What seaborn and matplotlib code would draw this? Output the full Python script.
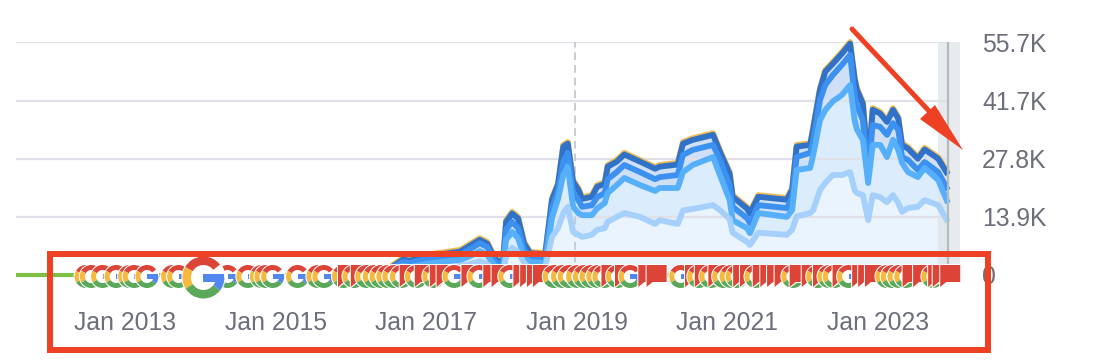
import matplotlib
matplotlib.use("Agg")
import matplotlib.pyplot as plt
import seaborn as sns
from matplotlib.collections import PathCollection
from matplotlib.lines import Line2D
from matplotlib.patches import Polygon, Rectangle, Wedge
from matplotlib.path import Path
from matplotlib.transforms import IdentityTransform

W, H = 1116, 362

# === Data ===
dates = [2016.25, 2016.39, 2016.52, 2016.69, 2016.78, 2016.98, 2017.18, 2017.45, 2017.58, 2017.71,
         2017.81, 2017.87, 2017.94, 2018.02, 2018.06, 2018.14, 2018.22, 2018.30, 2018.38, 2018.58,
         2018.67, 2018.75, 2018.82, 2018.88, 2018.95, 2019.02, 2019.07, 2019.20, 2019.27, 2019.37,
         2019.41, 2019.53, 2019.63, 2019.84, 2020.04, 2020.10, 2020.34, 2020.41, 2020.54, 2020.81,
         2020.90, 2021.03, 2021.07, 2021.26, 2021.30, 2021.41, 2021.79, 2021.86, 2021.92, 2022.10,
         2022.14, 2022.23, 2022.30, 2022.40, 2022.52, 2022.63, 2022.69, 2022.72, 2022.80, 2022.87,
         2022.93, 2023.03, 2023.12, 2023.20, 2023.27, 2023.32, 2023.40, 2023.53, 2023.62, 2023.80,
         2023.93]
top3 = [0, 0.5, 1.9, 4.1, 3.8, 4.8, 5.3, 6.0, 7.4, 8.8,
        7.9, 5.7, 3.6, 3.6, 13.1, 15.1, 13.9, 7.9, 5.5, 5.3,
        18.4, 22.0, 31.1, 31.8, 22.7, 20.8, 18.6, 19.1, 21.5, 22.2,
        26.3, 27.5, 29.2, 27.5, 25.8, 26.3, 26.8, 31.8, 32.7, 33.9,
        29.9, 24.6, 19.1, 16.3, 15.1, 19.1, 18.4, 20.8, 31.1, 31.5,
        35.4, 44.7, 49.0, 50.9, 53.3, 55.7, 47.3, 44.7, 41.3, 26.3,
        39.9, 39.0, 37.0, 39.9, 37.8, 31.5, 30.6, 28.2, 30.4, 28.2,
        24.4]
top10 = [0, 0.3, 1.6, 3.7, 3.4, 4.4, 4.9, 5.6, 7.0, 8.4,
         7.5, 5.3, 3.3, 3.3, 12.7, 14.7, 13.5, 7.5, 5.2, 5.0,
         18.0, 21.6, 30.7, 31.4, 22.3, 20.4, 18.2, 18.7, 21.1, 21.8,
         25.9, 27.1, 28.8, 27.1, 25.4, 25.9, 26.4, 31.4, 32.3, 33.5,
         29.5, 24.2, 18.7, 15.9, 14.7, 18.7, 18.0, 20.4, 30.7, 31.1,
         35.0, 44.3, 48.6, 50.5, 52.9, 55.3, 46.9, 44.3, 40.9, 25.9,
         39.5, 38.6, 36.6, 39.5, 37.4, 31.1, 30.2, 27.8, 30.0, 27.8,
         24.0]
top20 = [0, 0.2, 1.4, 3.1, 2.9, 3.8, 4.3, 4.8, 6.2, 7.6,
         6.7, 4.5, 2.6, 2.6, 10.8, 12.7, 11.2, 6.0, 4.3, 4.1,
         16.0, 20.1, 27.0, 29.2, 19.6, 17.9, 16.3, 16.7, 18.6, 19.6,
         22.9, 24.6, 26.3, 24.6, 22.9, 23.4, 23.9, 28.7, 29.9, 31.1,
         27.5, 21.5, 16.3, 13.6, 12.4, 16.7, 16.0, 18.4, 28.2, 29.2,
         32.3, 41.8, 45.4, 47.8, 50.2, 52.6, 43.0, 40.6, 37.0, 23.9,
         35.9, 35.4, 33.5, 36.3, 34.7, 28.2, 27.5, 25.1, 27.0, 24.6,
         20.3]
top50 = [0, 0, 0.7, 2.2, 1.9, 2.6, 3.1, 3.6, 4.5, 5.7,
         4.8, 3.1, 1.7, 1.9, 8.4, 10.3, 8.8, 4.3, 3.1, 2.9,
         13.6, 18.2, 23.9, 25.8, 16.3, 14.8, 14.3, 14.3, 15.9, 17.2,
         19.6, 21.5, 23.2, 21.5, 20.1, 20.8, 20.8, 24.6, 26.3, 28.2,
         23.9, 17.9, 13.1, 11.2, 10.0, 14.8, 13.9, 15.5, 25.1, 25.6,
         28.7, 37.0, 39.4, 41.5, 43.0, 45.4, 37.0, 34.8, 32.3, 22.0,
         31.1, 31.1, 28.2, 32.3, 29.9, 26.8, 24.6, 23.4, 25.6, 22.7,
         17.2]
top100 = [0, 0, 0.5, 1.2, 1.0, 1.4, 1.7, 2.2, 2.6, 3.3,
          2.6, 1.7, 0.7, 0.7, 4.3, 6.5, 5.5, 2.9, 1.4, 1.9,
          9.1, 11.2, 14.8, 16.3, 10.3, 9.6, 9.1, 9.6, 10.8, 11.2,
          12.7, 13.9, 14.8, 13.9, 12.2, 13.1, 12.2, 15.4, 15.8, 16.7,
          15.5, 13.4, 10.1, 7.9, 7.2, 10.1, 9.6, 10.8, 14.0, 14.8,
          15.5, 20.3, 22.0, 23.9, 23.9, 24.6, 20.3, 19.6, 19.1, 13.1,
          19.1, 18.6, 17.4, 19.1, 17.2, 15.1, 16.0, 16.3, 17.9, 16.7,
          12.7]

baseline_dates = [2011.55, 2023.93]
baseline_vals = [0, 0]

google_updates = [2012.48, 2012.55, 2012.70, 2012.88, 2013.06, 2013.12, 2013.29, 2013.63, 2013.71,
                  2014.36, 2014.63, 2014.81, 2014.87, 2014.96, 2015.29, 2015.56, 2015.64, 2015.90,
                  2016.04, 2016.21, 2016.31, 2016.40, 2016.49, 2016.57, 2016.67, 2016.87, 2017.10,
                  2017.37, 2017.70, 2018.11, 2018.70, 2018.81, 2018.90, 2019.01, 2019.10, 2019.19,
                  2019.28, 2019.36, 2019.54, 2019.71, 2020.38, 2020.62, 2020.78, 2020.95, 2021.05,
                  2021.13, 2021.38, 2021.87, 2022.20, 2022.35, 2022.42, 2022.61, 2023.12, 2023.19,
                  2023.28, 2023.37, 2023.73]
flag_events = [2015.96, 2016.13, 2016.78, 2016.98, 2017.18, 2017.27, 2017.60, 2017.89, 2018.00,
               2018.29, 2018.38, 2018.47, 2018.55, 2019.46, 2019.64, 2019.95, 2020.06, 2020.57,
               2020.70, 2020.88, 2021.21, 2021.30, 2021.47, 2021.57, 2021.66, 2021.76, 2021.96,
               2022.12, 2022.27, 2022.53, 2022.79, 2022.87, 2022.96, 2023.46, 2023.60, 2023.80,
               2023.86, 2023.96]
big_update = [2014.04]
marker_date = 2018.98

x_ticks = [2013, 2015, 2017, 2019, 2021, 2023]
x_labels = ["Jan 2013", "Jan 2015", "Jan 2017", "Jan 2019", "Jan 2021", "Jan 2023"]
y_ticks = [0, 13.9, 27.8, 41.7, 55.7]
y_labels = ["0", "13.9K", "27.8K", "41.7K", "55.7K"]

# === Colours ===
TEXT = "#6C6F7B"
GRID = "#E0E1E8"
RED_BOX = "#EE4124"
G_RED, G_YELLOW, G_GREEN, G_BLUE = "#DB4437", "#F4B93E", "#5BA85A", "#5187EE"

# === Setup ===
sns.set_theme(style="white")
plt.rcParams["font.family"] = ["Liberation Sans", "DejaVu Sans"]

fig = plt.figure(figsize=(W / 100, H / 100), dpi=100)
ax = fig.add_axes([16 / W, (H - 275) / H, (960 - 16) / W, (275 - 42) / H])
ax.set_xlim(2011.55, 2024.09)
ax.set_ylim(0, 55.7)
sns.despine(ax=ax, left=True, bottom=True, right=True, top=True)

# === Area bands, each one opaque over the previous ===
ax.fill_between(dates, top10, 0, color="#CFDFF6", lw=0, zorder=1)
ax.fill_between(dates, top50, 0, color="#DBECFC", lw=0, zorder=1.1)
ax.fill_between(dates, top100, 0, color="#E9F4FE", lw=0, zorder=1.2)

ax.hlines(y_ticks[1:], 2011.55, 2023.93, color=GRID, lw=1.6, zorder=1.5)
ax.vlines(marker_date, 0, 55.7, color="#C9CBD2", lw=1.4, ls=(0, (4, 2.5)), zorder=1.5)

# grey band over the unfinished period, lines stay on top of it
ax.axvspan(2023.80, 2024.09, color="#DDE3E6", alpha=0.7, lw=0, zorder=2)

# === Series, widest group first ===
series = [(top3, "#F2BC55"), (top10, "#2F72C8"), (top20, "#3B90F0"), (top50, "#56AFFB"), (top100, "#A5D0FC")]
for vals, color in series:
    sns.lineplot(x=dates, y=vals, color=color, linewidth=4.2, errorbar=None, ax=ax, zorder=3)
sns.lineplot(x=baseline_dates, y=baseline_vals, color="#7DBE45", linewidth=3, errorbar=None, ax=ax, zorder=2.5)
for line in ax.lines:
    line.set_clip_on(False)
    line.set_solid_capstyle("butt")
    line.set_solid_joinstyle("round")

ax.axvline(2023.93, color="#B4BBBF", lw=1.6, zorder=4)

ax.set_xticks(x_ticks, x_labels)
ax.set_yticks(y_ticks, y_labels)
ax.yaxis.tick_right()
ax.tick_params(axis="x", length=0, pad=26, labelsize=17.8, labelcolor=TEXT)
ax.tick_params(axis="y", length=0, pad=16, labelsize=17.8, labelcolor=TEXT)
for lab in ax.get_yticklabels():
    lab.set_ha("left")
    lab.set_va("center_baseline")


# === Update icons, sized in pixels ===
def g_icon(r, width, dy):
    c = (0, dy)
    bar = Path([(0, dy - 0.22 * r), (r, dy - 0.22 * r), (r, dy + 0.18 * r), (0, dy + 0.18 * r), (0, dy - 0.22 * r)])
    return [
        (Wedge(c, r + 1, 0, 360).get_path(), "white"),
        (Wedge(c, r, 38, 150, width=width).get_path(), G_RED),
        (Wedge(c, r, 150, 212, width=width).get_path(), G_YELLOW),
        (Wedge(c, r, 212, 322, width=width).get_path(), G_GREEN),
        (Wedge(c, r, 322, 360, width=width).get_path(), G_BLUE),
        (bar, G_BLUE),
    ]


def flag_icon():
    outline = Path([(-11, 11), (11, 11), (11, -8), (-3, -8), (-11, -14), (-11, 11)])
    body = Path([(-10, 10), (10, 10), (10, -7), (-4, -7), (-10, -12), (-10, 10)])
    return [(outline, "white"), (body, G_RED)]


def add_icons(events, zorder):
    paths, offsets, colors = [], [], []
    for x, parts in events:
        for path, color in parts:
            paths.append(path)
            offsets.append((x, 0))
            colors.append(color)
    coll = PathCollection(paths, offsets=offsets, offset_transform=ax.transData, facecolors=colors,
                          linewidths=0, zorder=zorder, clip_on=False)
    coll.set_transform(IdentityTransform())
    ax.add_collection(coll, autolim=False)


small_g = g_icon(11.5, 5, -1.5)
flag = flag_icon()
events = [(x, small_g) for x in google_updates] + [(x, flag) for x in flag_events]
add_icons(sorted(events, key=lambda e: e[0]), 5)
add_icons([(x, g_icon(21, 8.5, -2.5)) for x in big_update], 6)

# === Red callouts on top of the screenshot ===
fig.add_artist(Rectangle((50 / W, (H - 350) / H), 938 / W, 96 / H, transform=fig.transFigure,
                         fill=False, ec=RED_BOX, lw=4.3, zorder=10))
fig.add_artist(Line2D([852 / W, 945 / W], [(H - 29) / H, (H - 128) / H], transform=fig.transFigure,
                      color=RED_BOX, lw=3.6, solid_capstyle="round", zorder=10))
fig.add_artist(Polygon([(963 / W, (H - 150) / H), (935 / W, (H - 105) / H), (920 / W, (H - 119) / H)],
                       transform=fig.transFigure, fc=RED_BOX, ec="none", zorder=10))

plt.savefig("out.png", dpi=100)
